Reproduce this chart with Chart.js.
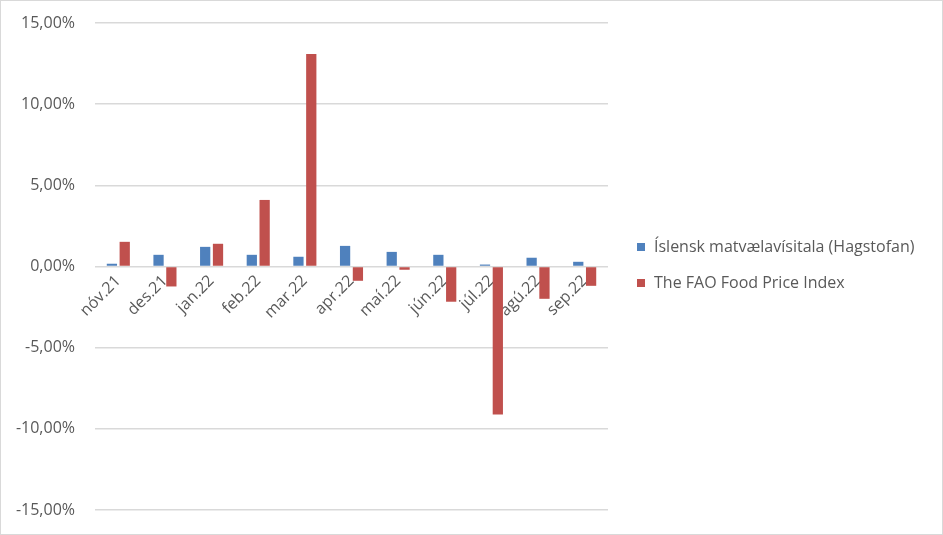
<!DOCTYPE html>
<html>
<head>
<meta charset="utf-8">
<script src="https://cdn.jsdelivr.net/npm/chart.js@4"></script>
<style>
  html, body { margin: 0; padding: 0; background: #fff; }
  #wrap { width: 943px; height: 535px; box-sizing: border-box; border: 1px solid #d9d9d9; position: relative; }
  #legend { position: absolute; left: 636px; top: 234px; font: 16px "Open Sans", sans-serif; color: #595959; }
  #legend div { height: 36px; display: flex; align-items: flex-start; }
  #legend span.box { display: inline-block; width: 8px; height: 8px; margin: 8px 9px 0 0; }
</style>
</head>
<body>
<div id="wrap"><canvas id="myChart" width="941" height="533"></canvas><div id="legend"></div></div>
<script>
const months = ['nóv.21', 'des.21', 'jan.22', 'feb.22', 'mar.22', 'apr.22', 'maí.22', 'jún.22', 'júl.22', 'ágú.22', 'sep.22'];
const islensk = [0.17, 0.72, 1.21, 0.72, 0.60, 1.27, 0.90, 0.72, 0.12, 0.54, 0.29];
const fao = [1.52, -1.23, 1.40, 4.10, 13.09, -0.88, -0.20, -2.17, -9.11, -1.99, -1.19];
const yTicks = [-15, -10, -5, 0, 5, 10, 15];

const textColor = '#595959';
const gridColor = '#d9d9d9';
const font = { family: '"Open Sans", sans-serif', size: 16 };

// keep the scales from adding their own padding, layout.padding sets the plot box
function noPadding(scale) {
    scale.paddingTop = 0;
    scale.paddingBottom = 0;
    scale.paddingLeft = 0;
    scale.paddingRight = 0;
}

const ctx = document.getElementById('myChart').getContext('2d');

const myChart = new Chart(ctx, {
    type: 'bar',
    data: {
        labels: months,
        datasets: [{
            label: 'Íslensk matvælavísitala (Hagstofan)',
            data: islensk,
            backgroundColor: '#4f81bd',
            barPercentage: 0.8,
            categoryPercentage: 0.55
        }, {
            label: 'The FAO Food Price Index',
            data: fao,
            backgroundColor: '#c0504d',
            barPercentage: 0.8,
            categoryPercentage: 0.55
        }]
    },
    options: {
        responsive: false,
        animation: false,
        layout: { padding: { left: 0, top: 22, bottom: 24, right: 334 } },
        scales: {
            x: {
                position: { y: 0 },
                afterFit: noPadding,
                grid: { display: false, drawTicks: false },
                border: { display: false },
                ticks: {
                    color: textColor,
                    font: font,
                    minRotation: 45,
                    maxRotation: 45,
                    padding: 5
                }
            },
            y: {
                min: -15,
                max: 15,
                afterFit: function(scale) {
                    noPadding(scale);
                    scale.width = 94;
                },
                afterBuildTicks: function(axis) {
                    axis.ticks = yTicks.map(v => ({ value: v }));
                },
                grid: { color: gridColor, lineWidth: 1.5, drawTicks: false },
                border: { display: false },
                ticks: {
                    color: textColor,
                    font: font,
                    padding: 20,
                    callback: function(v) {
                        return v.toFixed(2).replace('.', ',') + '%';
                    }
                }
            }
        },
        plugins: {
            legend: { display: false },
            tooltip: { enabled: false }
        }
    }
});

// legend built from the chart's datasets
const legendEl = document.getElementById('legend');
myChart.data.datasets.forEach(ds => {
    const row = document.createElement('div');
    const box = document.createElement('span');
    box.className = 'box';
    box.style.background = ds.backgroundColor;
    row.appendChild(box);
    row.appendChild(document.createTextNode(ds.label));
    legendEl.appendChild(row);
});
</script>
</body>
</html>
